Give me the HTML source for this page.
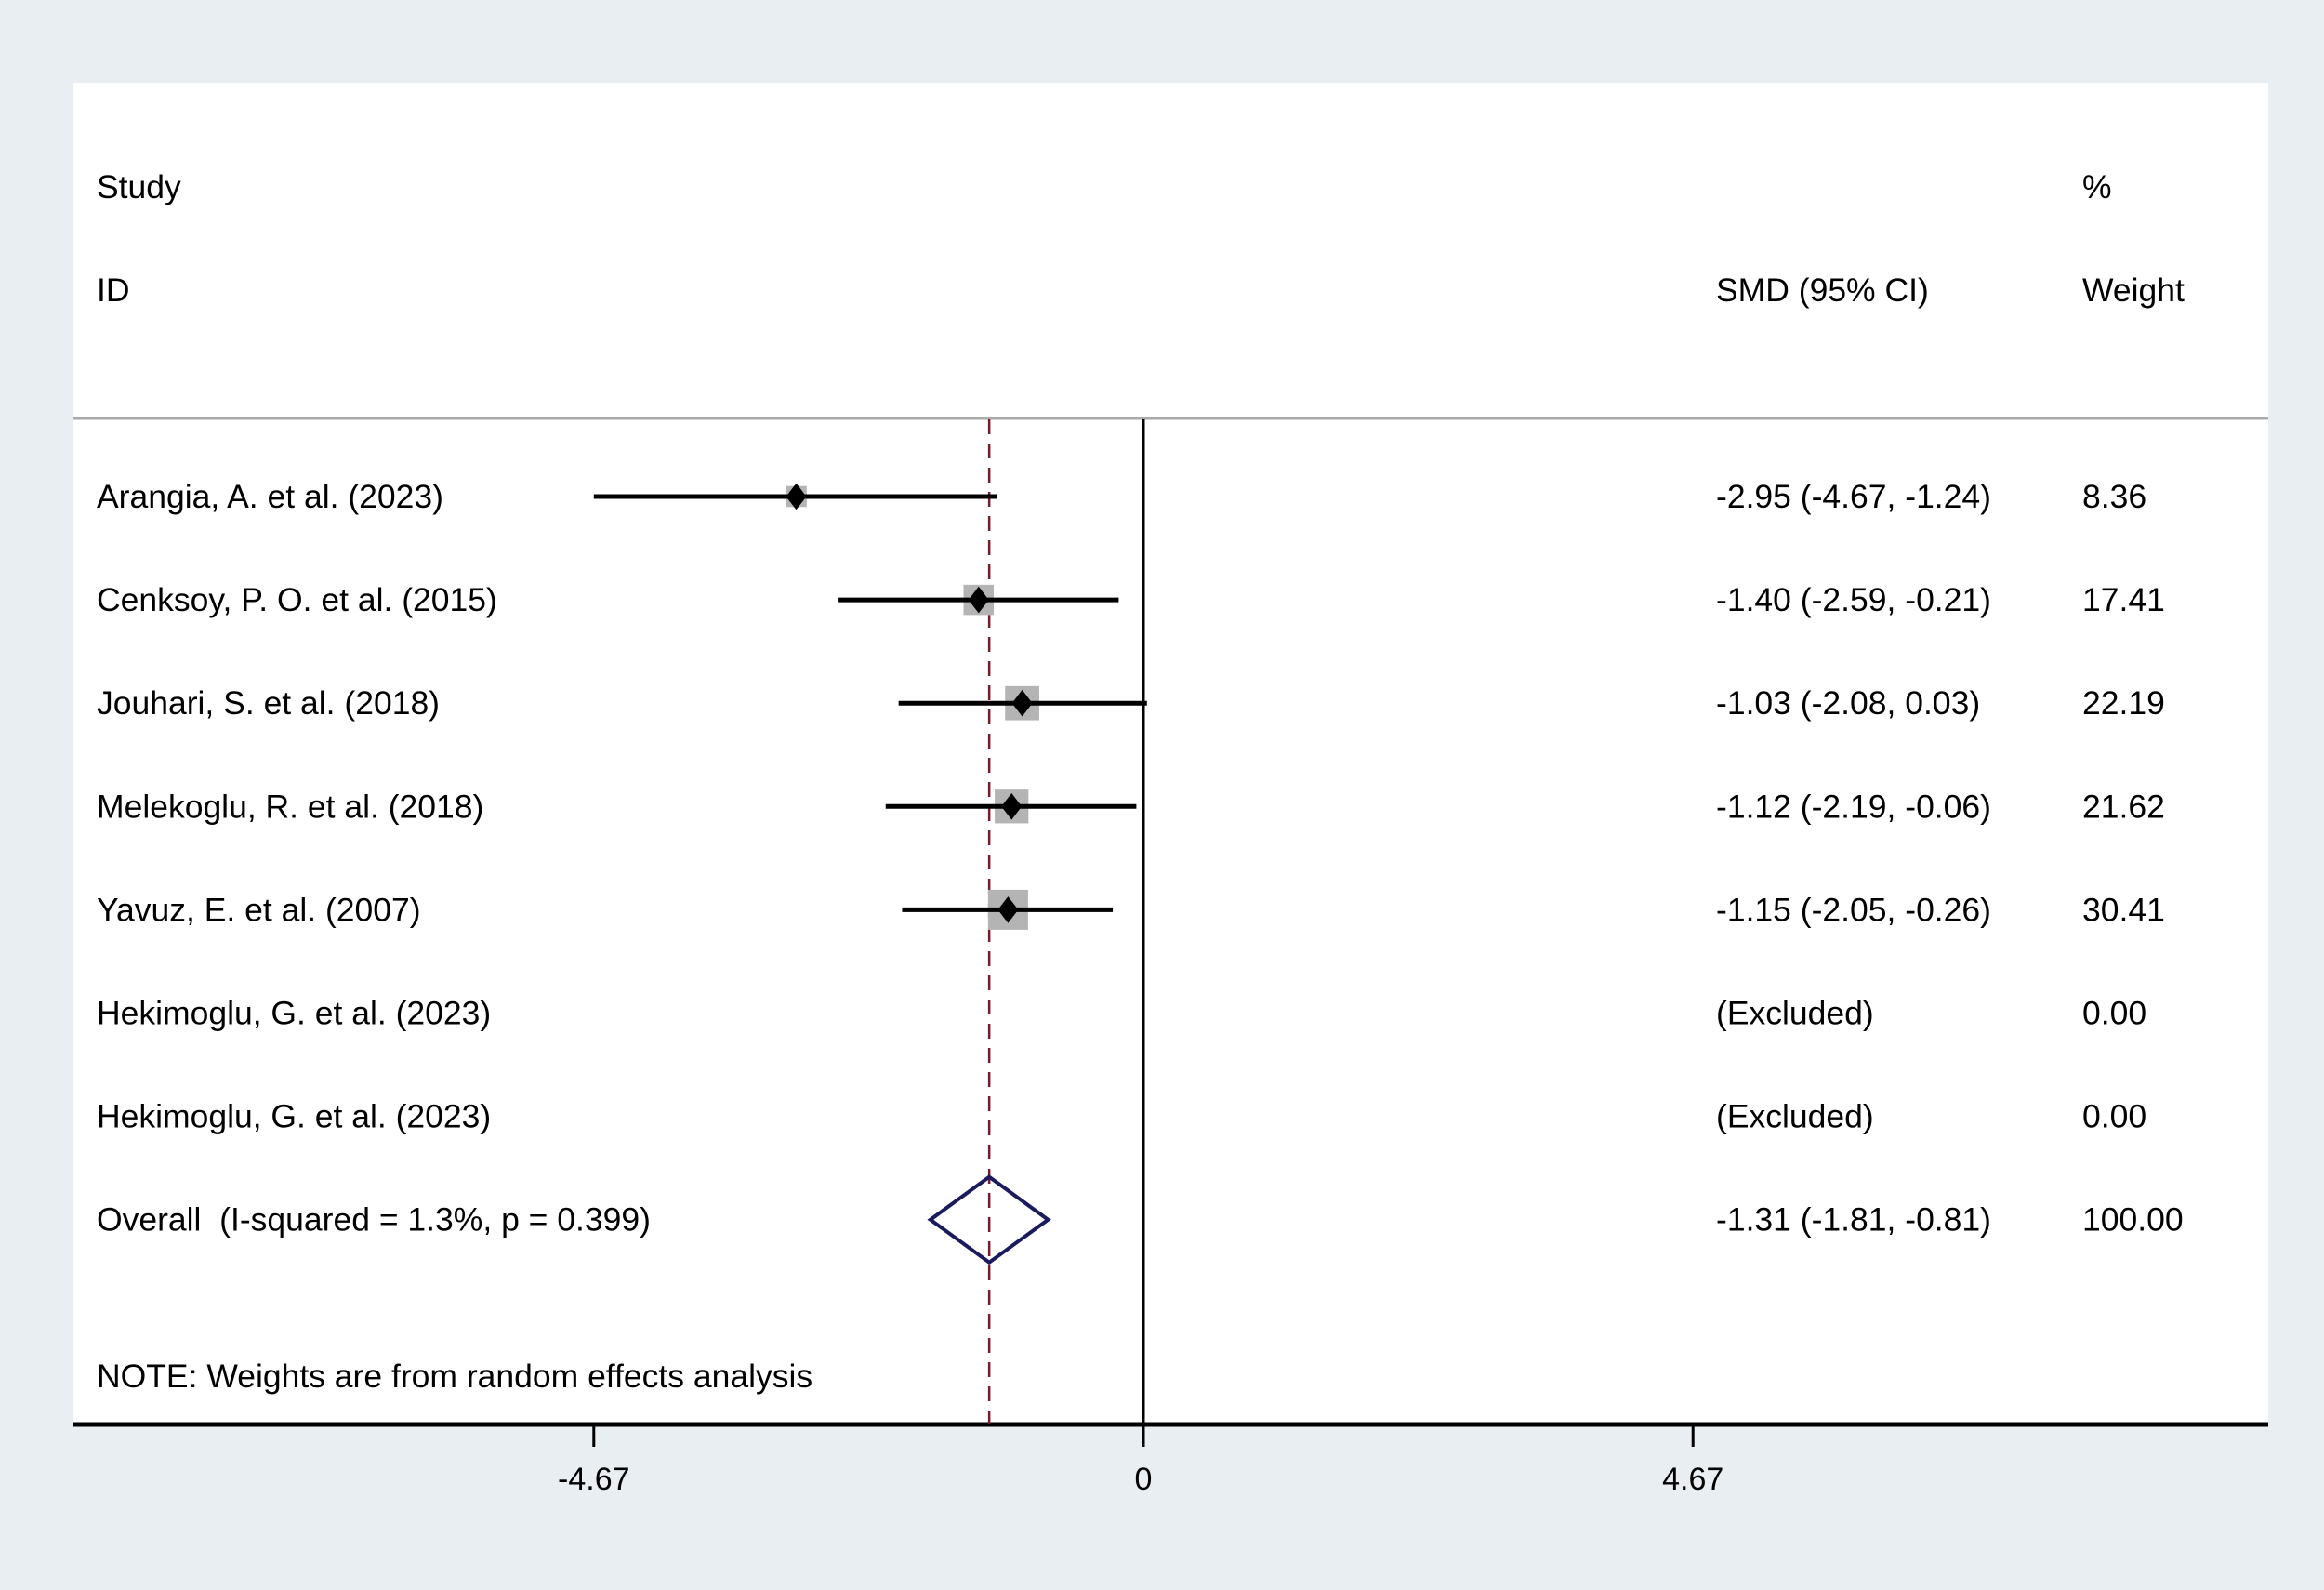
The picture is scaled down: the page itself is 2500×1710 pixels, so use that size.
<!DOCTYPE html>
<html><head><meta charset="utf-8"><style>
html,body{margin:0;padding:0;background:#e8eef1;}
svg{display:block;font-family:"Liberation Sans",Arial,sans-serif;}
text{white-space:pre;}
</style></head><body>
<svg id="chart" width="2500" height="1710" viewBox="0 0 2500 1710">
<rect x="0" y="0" width="2500" height="1710" fill="#e8eef1"/>
<rect x="78" y="89" width="2362" height="1443" fill="#ffffff"/>
<line x1="78" y1="450" x2="2440" y2="450" stroke="#aaaaaa" stroke-width="3"/>
<g font-size="35.5" fill="#000">
<text x="104" y="213">Study</text>
<text x="104" y="324">ID</text>
<text x="1846" y="324">SMD (95% CI)</text>
<text x="2240" y="213">%</text>
<text x="2240" y="324">Weight</text>
</g>
<g id="marks"></g>
</svg>
<script>
const studies = ["Arangia, A. et al. (2023)","Cenksoy, P. O. et al. (2015)","Jouhari, S. et al. (2018)","Melekoglu, R. et al. (2018)","Yavuz, E. et al. (2007)","Hekimoglu, G. et al. (2023)","Hekimoglu, G. et al. (2023)"];
const smd = [-2.95,-1.40,-1.03,-1.12,-1.15,null,null];
const lower = [-4.67,-2.59,-2.08,-2.19,-2.05,null,null];
const upper = [-1.24,-0.21,0.03,-0.06,-0.26,null,null];
const weights = [8.36,17.41,22.19,21.62,30.41,0.00,0.00];
const ciLabels = ["-2.95 (-4.67, -1.24)","-1.40 (-2.59, -0.21)","-1.03 (-2.08, 0.03)","-1.12 (-2.19, -0.06)","-1.15 (-2.05, -0.26)","(Excluded)","(Excluded)"];
const weightLabels = ["8.36","17.41","22.19","21.62","30.41","0.00","0.00"];
const overall = [-1.31,-1.81,-0.81];
const overallLabel = "Overall  (I-squared = 1.3%, p = 0.399)";
const overallCI = "-1.31 (-1.81, -0.81)";
const overallWeight = "100.00";
const ticks = [-4.67,0,4.67];
const tickLabels = ["-4.67","0","4.67"];

const NS="http://www.w3.org/2000/svg";
const g=document.getElementById('marks');
const X=v=>1230+v*126.6;
const Y=i=>534+i*111.1;
const FS=35.5;
function mk(t,a){const e=document.createElementNS(NS,t);for(const k in a)e.setAttribute(k,a[k]);g.appendChild(e);return e;}

let ax=mk('line',{x1:78,y1:1532,x2:2440,y2:1532,stroke:'#000','stroke-width':5});


let zl=mk('line',{x1:X(0),y1:451,x2:X(0),y2:1532,stroke:'#000','stroke-width':3});


let dl=mk('line',{x1:X(overall[0]),y1:451,x2:X(overall[0]),y2:1532,stroke:'#7a1a2a','stroke-width':2.5,'stroke-dasharray':'16 10'});


ticks.forEach((t,i)=>{
  let l=mk('line',{x1:X(t),y1:1532,x2:X(t),y2:1556,stroke:'#000','stroke-width':3});
  
  
  let tx=mk('text',{x:X(t),y:1602,'font-size':34,'text-anchor':'middle'});
  tx.textContent=tickLabels[i];
  
  
});
studies.forEach((s,i)=>{
  const y=Y(i);
  let t=mk('text',{x:104,y:y+12,'font-size':FS});t.textContent=s;
  
  
  let c=mk('text',{x:1846,y:y+12,'font-size':FS});c.textContent=ciLabels[i];
  
  
  let w=mk('text',{x:2240,y:y+12,'font-size':FS});w.textContent=weightLabels[i];
  
  
  if(smd[i]===null)return;
  const sz=7.8*Math.sqrt(weights[i]);
  let r=mk('rect',{x:X(smd[i])-sz/2,y:y-sz/2,width:sz,height:sz,fill:'#b4b4b4'});
  
  
  let l=mk('line',{x1:X(lower[i]),y1:y,x2:X(upper[i]),y2:y,stroke:'#000','stroke-width':5});
  
  
  const d=11;
  let p=mk('polygon',{points:`${X(smd[i])},${y-d*1.3} ${X(smd[i])+d},${y} ${X(smd[i])},${y+d*1.3} ${X(smd[i])-d},${y}`,fill:'#000'});
  
  
});
const oy=Y(7);
let ot=mk('text',{x:104,y:oy+12,'font-size':FS});ot.textContent=overallLabel;


let oc=mk('text',{x:1846,y:oy+12,'font-size':FS});oc.textContent=overallCI;


let ow=mk('text',{x:2240,y:oy+12,'font-size':FS});ow.textContent=overallWeight;


let od=mk('polygon',{points:`${X(overall[1])},${oy} ${X(overall[0])},${oy-46} ${X(overall[2])},${oy} ${X(overall[0])},${oy+46}`,fill:'none',stroke:'#1a1a5e','stroke-width':4});


let nt=mk('text',{x:104,y:1492,'font-size':FS});nt.textContent="NOTE: Weights are from random effects analysis";


</script>
</body></html>
